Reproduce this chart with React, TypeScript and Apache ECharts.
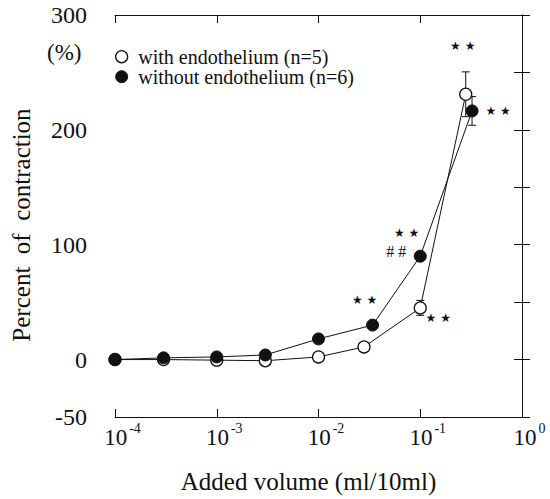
import React, { useEffect, useRef } from "react";
import * as echarts from "echarts";

// Volumes (ml/10ml) and responses (% of contraction)
const withVol = [1e-4, 3e-4, 1e-3, 3e-3, 1e-2, 0.028, 0.1, 0.28];
const withVal = [0, 0, -0.5, -1, 2.3, 11, 45, 231];
const withErr = [0, 0, 0, 0, 0, 0, 6.5, 19.5];

const withoutVol = [1e-4, 3e-4, 1e-3, 3e-3, 1e-2, 0.034, 0.1, 0.323];
const withoutVal = [0, 1.5, 2.3, 4, 18, 30, 90, 216.5];
const withoutErr = [0, 0, 0, 0, 0, 0, 0, 12.5];

const xTickExponents = [-4, -3, -2, -1, 0];
const yTickLabels = [-50, 0, 100, 200, 300];

const seriesNames = ["with endothelium (n=5)", "without endothelium (n=6)"];

const SERIF = "'Liberation Serif', 'Times New Roman', serif";
const SYM = "'DejaVu Sans', sans-serif";
const INK = "#111";

const STAR = "★ ★";
const HASH = "# #";

function starLabel(text: string, offset: number[]) {
  return {
    show: true,
    position: "inside",
    offset,
    formatter: text,
    fontFamily: SYM,
    fontSize: 12,
    color: INK,
  };
}

export default function App() {
  const ref = useRef<HTMLDivElement>(null);

  useEffect(() => {
    if (!ref.current) return;
    const chart = echarts.init(ref.current, undefined, { renderer: "svg" });

    const withData: any[] = withVol.map((v, i) => ({ value: [Math.log10(v), withVal[i]] }));
    const withoutData: any[] = withoutVol.map((v, i) => ({ value: [Math.log10(v), withoutVal[i]] }));

    // significance marks
    withData[7].label = starLabel(STAR, [-3, -48]);
    withData[6].label = starLabel(STAR, [18, 10]);
    withoutData[7].label = starLabel(STAR, [26, 0]);
    withoutData[5].label = starLabel(STAR, [-8, -25]);
    withoutData[6].label = {
      show: true,
      position: "inside",
      align: "right",
      verticalAlign: "middle",
      offset: [-1, -14],
      formatter: "{a|" + STAR + "}\n{b|" + HASH + "}",
      rich: {
        a: { fontFamily: SYM, fontSize: 12, lineHeight: 19, color: INK },
        b: { fontFamily: SERIF, fontSize: 16, lineHeight: 19, color: INK, padding: [0, 13, 0, 0] },
      },
    };

    const errData: number[][] = [];
    withVol.forEach((v, i) => {
      if (withErr[i] > 0) errData.push([Math.log10(v), withVal[i] - withErr[i], withVal[i] + withErr[i]]);
    });
    withoutVol.forEach((v, i) => {
      if (withoutErr[i] > 0) errData.push([Math.log10(v), withoutVal[i] - withoutErr[i], withoutVal[i] + withoutErr[i]]);
    });

    const xMin = Math.min(...xTickExponents);
    const xMax = Math.max(...xTickExponents);
    const yMin = Math.min(...yTickLabels);
    const yMax = Math.max(...yTickLabels);

    const yCommon = {
      type: "value",
      min: yMin,
      max: yMax,
      interval: 50,
      splitLine: { show: false },
      axisLine: { show: true, lineStyle: { color: INK, width: 1 } },
      axisTick: { show: true, inside: true, length: 8, lineStyle: { color: INK, width: 1 } },
    };

    const xCommon = {
      type: "value",
      min: xMin,
      max: xMax,
      interval: 1,
      splitLine: { show: false },
      axisLine: { show: true, onZero: false, lineStyle: { color: INK, width: 1 } },
      axisTick: { show: true, inside: true, length: 8, lineStyle: { color: INK, width: 1 } },
    };

    chart.setOption({
      animation: false,
      backgroundColor: "#fff",
      textStyle: { fontFamily: SERIF },
      grid: { left: 115, right: 28, top: 15, bottom: 77, containLabel: false },
      legend: {
        orient: "vertical",
        left: 110,
        top: 41.7,
        icon: "circle",
        itemWidth: 23.2,
        itemHeight: 12,
        itemGap: 0,
        textStyle: { fontFamily: SERIF, fontSize: 20, color: INK, lineHeight: 20 },
        data: [
          { name: seriesNames[0], itemStyle: { color: "#fff", borderColor: INK, borderWidth: 1.3 } },
          { name: seriesNames[1], itemStyle: { color: INK, borderColor: INK, borderWidth: 1 } },
        ],
      },
      graphic: [
        {
          type: "text",
          left: 47,
          top: 41,
          style: { text: "(%)", font: "23px " + SERIF, fontFamily: SERIF, fontSize: 23, fill: INK },
        },
      ],
      xAxis: [
        {
          ...xCommon,
          position: "bottom",
          name: "Added volume (ml/10ml)",
          nameLocation: "middle",
          nameGap: 52,
          nameTextStyle: { fontFamily: SERIF, fontSize: 25, color: INK, padding: [0, 20, 0, 0] },
          axisLabel: {
            show: true,
            margin: 4,
            fontFamily: SERIF,
            formatter: (v: number) => "{b|10}{s|" + String(Math.round(v)) + "}",
            rich: {
              b: { fontFamily: SERIF, fontSize: 23, color: INK, lineHeight: 28, verticalAlign: "bottom", padding: [0, 0, 0, 15] },
              s: { fontFamily: SERIF, fontSize: 14, color: INK, lineHeight: 28, verticalAlign: "top", padding: [0, 0, 0, 2] },
            },
          },
        },
        {
          ...xCommon,
          position: "top",
          axisLabel: { show: false },
        },
      ],
      yAxis: [
        {
          ...yCommon,
          position: "left",
          offset: 20,
          name: "Percent  of  contraction",
          nameLocation: "middle",
          nameGap: 61,
          nameRotate: 90,
          nameTextStyle: { fontFamily: SERIF, fontSize: 25, color: INK, padding: [0, 18, 0, 0] },
          axisLabel: {
            show: true,
            margin: 8,
            fontFamily: SERIF,
            fontSize: 24,
            color: INK,
            formatter: (v: number) => (yTickLabels.indexOf(v) >= 0 ? String(v) : ""),
          },
        },
        {
          ...yCommon,
          position: "right",
          offset: 19,
          axisLabel: { show: false },
        },
      ],
      series: [
        {
          type: "custom",
          name: "err",
          z: 1,
          xAxisIndex: 0,
          yAxisIndex: 0,
          encode: { x: 0, y: [1, 2] },
          data: errData,
          renderItem: (params: any, api: any) => {
            const x = api.value(0);
            const lo = api.coord([x, api.value(1)]);
            const hi = api.coord([x, api.value(2)]);
            const w = 4;
            const st = { stroke: INK, lineWidth: 1 };
            return {
              type: "group",
              children: [
                { type: "line", shape: { x1: lo[0], y1: lo[1], x2: hi[0], y2: hi[1] }, style: st },
                { type: "line", shape: { x1: lo[0] - w, y1: lo[1], x2: lo[0] + w, y2: lo[1] }, style: st },
                { type: "line", shape: { x1: hi[0] - w, y1: hi[1], x2: hi[0] + w, y2: hi[1] }, style: st },
              ],
            };
          },
        },
        {
          type: "line",
          name: seriesNames[0],
          z: 3,
          xAxisIndex: 0,
          yAxisIndex: 0,
          data: withData,
          symbol: "circle",
          symbolSize: 12,
          showAllSymbol: true,
          lineStyle: { color: INK, width: 1 },
          itemStyle: { color: "#fff", borderColor: INK, borderWidth: 1.3 },
          emphasis: { disabled: true },
        },
        {
          type: "line",
          name: seriesNames[1],
          z: 4,
          xAxisIndex: 0,
          yAxisIndex: 0,
          data: withoutData,
          symbol: "circle",
          symbolSize: 12,
          showAllSymbol: true,
          lineStyle: { color: INK, width: 1 },
          itemStyle: { color: INK, borderColor: INK, borderWidth: 1 },
          emphasis: { disabled: true },
        },
      ],
    });

    return () => chart.dispose();
  }, []);

  return <div ref={ref} style={{ width: 550, height: 499, position: "absolute", left: 0, top: 0 }} />;
}
